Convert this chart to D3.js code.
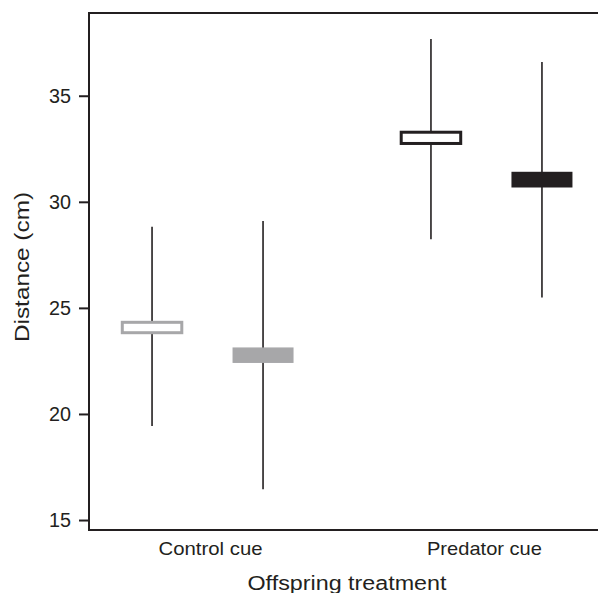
<!DOCTYPE html>
<html><head><meta charset="utf-8">
<script src="https://cdn.jsdelivr.net/npm/d3@7"></script>
<style>body{margin:0;background:#fff}svg{display:block}text{font-family:"Liberation Sans",Arial,sans-serif;fill:#231f20}</style>
</head><body>
<script>
const categories = ["Control cue", "Predator cue"];
const series = ["open", "filled"];
// [category][series]
const boxHigh = [[24.32, 23.10], [33.28, 31.38]];
const boxLow = [[23.83, 22.44], [32.75, 30.71]];
const whiskerHigh = [[28.82, 29.10], [37.67, 36.59]];
const whiskerLow = [[19.43, 16.45], [28.24, 25.49]];
const yTicks = [15, 20, 25, 30, 35];
const seriesColor = {
  "Control cue": "#a7a7a9",
  "Predator cue": "#231f20"
};

(function () {
const W = 598, H = 593;
const svg = d3.select("body").append("svg").attr("width", W).attr("height", H);
const mLeft = 89, mTop = 13, mBottom = 530, mRight = 605;

const x = d3.scalePoint().domain(categories).range([mLeft, mRight]).padding(0.425);
const xs = d3.scalePoint().domain(series).range([-55.5, 55.5]);
const y = d3.scaleLinear().domain([14.53, 38.9]).range([mBottom, mTop]);

const rows = [];
categories.forEach((c, i) => series.forEach((s, j) => rows.push({
  c, s, lo: boxLow[i][j], hi: boxHigh[i][j], wl: whiskerLow[i][j], wh: whiskerHigh[i][j]
})));

// whiskers
svg.selectAll("line.wh").data(rows).join("line").attr("class", "wh")
  .attr("x1", d => x(d.c) + xs(d.s)).attr("x2", d => x(d.c) + xs(d.s))
  .attr("y1", d => y(d.wl)).attr("y2", d => y(d.wh))
  .attr("stroke", "#231f20").attr("stroke-width", 1.6);

// boxes
const bw = 59.5;
svg.selectAll("rect.box").data(rows).join("rect").attr("class", "box")
  .attr("x", d => x(d.c) + xs(d.s) - bw / 2)
  .attr("width", bw)
  .attr("y", d => y(d.hi))
  .attr("height", d => y(d.lo) - y(d.hi))
  .attr("fill", d => d.s === "open" ? "#fff" : seriesColor[d.c])
  .attr("stroke", d => seriesColor[d.c])
  .attr("stroke-width", d => d.s === "open" ? 3 : 1.5);

// frame
svg.append("path")
  .attr("d", `M${mRight},${mTop}H${mLeft}V${mBottom}H${mRight}`)
  .attr("fill", "none").attr("stroke", "#231f20").attr("stroke-width", 2);

// y axis
const yAxis = svg.append("g").attr("transform", `translate(${mLeft},0)`)
  .call(d3.axisLeft(y).tickValues(yTicks).tickSize(10).tickPadding(8));
yAxis.select(".domain").remove();
yAxis.selectAll(".tick line").attr("stroke", "#231f20").attr("stroke-width", 2);
yAxis.selectAll(".tick text").attr("font-size", 20).attr("fill", "#231f20")
  .attr("textLength", 22).attr("lengthAdjust", "spacingAndGlyphs")
  .style("font-family", '"Liberation Sans",Arial,sans-serif');

// x axis labels
const xAxis = svg.append("g").attr("transform", `translate(0,${mBottom})`)
  .call(d3.axisBottom(x).tickSize(0).tickPadding(12));
xAxis.select(".domain").remove();
xAxis.selectAll(".tick text").attr("font-size", 19).attr("fill", "#231f20")
  .attr("dx", (d, i) => i === 0 ? 2.5 : -2.5)
  .attr("textLength", (d, i) => i === 0 ? 104 : 115).attr("lengthAdjust", "spacingAndGlyphs")
  .style("font-family", '"Liberation Sans",Arial,sans-serif');

svg.append("text").attr("x", 347).attr("y", 590).attr("text-anchor", "middle")
  .attr("font-size", 20).attr("textLength", 199).attr("lengthAdjust", "spacingAndGlyphs")
  .text("Offspring treatment");
svg.append("text").attr("transform", "translate(29,267) rotate(-90)")
  .attr("text-anchor", "middle").attr("font-size", 21)
  .attr("textLength", 150).attr("lengthAdjust", "spacingAndGlyphs")
  .text("Distance (cm)");
})();
</script>
</body></html>
